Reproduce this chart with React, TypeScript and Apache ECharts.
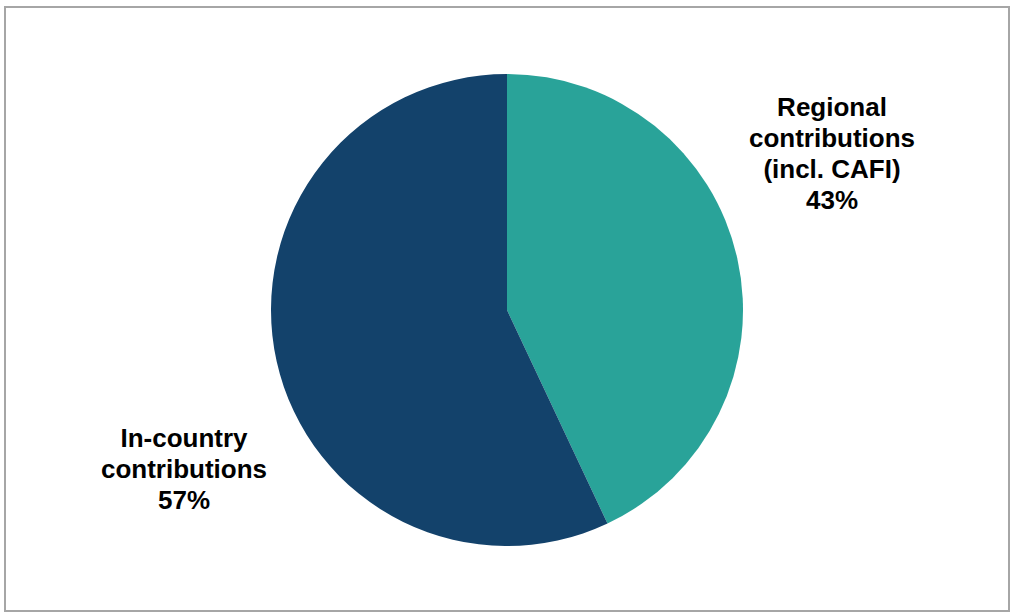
import React, { useEffect, useRef } from "react";
import * as echarts from "echarts";

const categories = ["Regional\ncontributions\n(incl. CAFI)", "In-country\ncontributions"];
const shares = [43, 57];
const colors = ["#29a399", "#13426b"];
const labelSpots = [
  [832, 153],
  [184, 469],
];

export default function App() {
  const ref = useRef<HTMLDivElement>(null);
  useEffect(() => {
    const chart = echarts.init(ref.current!, undefined, { renderer: "svg" });
    chart.setOption({
      animation: false,
      backgroundColor: "#ffffff",
      graphic: [
        {
          type: "rect",
          shape: { x: 5, y: 7, width: 1004, height: 604 },
          style: { fill: "none", stroke: "#a6a6a6", lineWidth: 2 },
          z: -1,
        },
      ],
      series: [
        {
          type: "pie",
          center: [507, 310],
          radius: [0, 236],
          startAngle: 90,
          clockwise: true,
          data: categories.map((name, i) => ({
            name,
            value: shares[i],
            itemStyle: { color: colors[i] },
          })),
          label: {
            show: true,
            position: "outside",
            formatter: (p: any) => `${p.name}\n${p.value}%`,
            fontFamily: "Liberation Sans, Arial, sans-serif",
            fontWeight: "bold",
            fontSize: 26,
            lineHeight: 31,
            color: "#000000",
            align: "center",
            verticalAlign: "middle",
            overflow: "none",
            width: 300,
          },
          labelLine: { show: false },
          labelLayout: (p: any) => ({
            x: labelSpots[p.dataIndex][0],
            y: labelSpots[p.dataIndex][1],
            align: "center",
            verticalAlign: "middle",
          }),
          emphasis: { disabled: true },
        },
      ],
    });
    return () => chart.dispose();
  }, []);
  return (
    <div
      ref={ref}
      style={{ position: "fixed", left: 0, top: 0, width: 1013, height: 615 }}
    />
  );
}
